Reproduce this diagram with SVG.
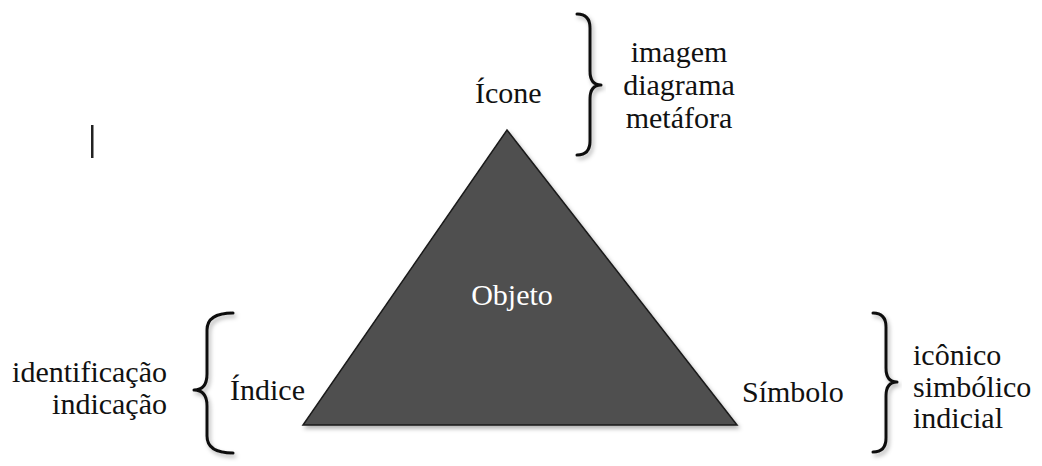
<svg xmlns="http://www.w3.org/2000/svg" width="1042" height="466" viewBox="0 0 1042 466">
  <defs>
    <filter id="shadow" x="-10%" y="-10%" width="130%" height="130%">
      <feDropShadow dx="2" dy="3" stdDeviation="2" flood-color="#000" flood-opacity="0.3"/>
    </filter>
  </defs>
  <style>
    text { font-family: 'Liberation Serif', 'Times New Roman', Times, serif; font-size: 30px; fill: #111; }
    .brace { fill: none; stroke: #111; stroke-width: 3; stroke-linecap: round; stroke-linejoin: round; }
    .label-in { fill: #fff; text-anchor: middle; }
  </style>
  <rect width="1042" height="466" fill="#fff"/>

  <!-- stray cursor bar -->
  <rect x="91" y="125" width="2.5" height="33" fill="#222"/>

  <!-- central triangle -->
  <g id="objeto">
    <polygon points="507,130 737,425 303,425" fill="#505050" stroke="#1a1a1a" stroke-width="1.5" filter="url(#shadow)"/>
    <text class="label-in" x="512" y="305" font-family="Liberation Serif, serif">Objeto</text>
  </g>

  <!-- top vertex: Ícone -->
  <g id="icone" font-family="Liberation Serif, serif">
    <text x="475" y="103">Ícone</text>
    <path class="brace" filter="url(#shadow)" d="M577,14 Q590,14 590,28 L590,71 Q590,85 601,85 Q590,85 590,99 L590,141 Q590,155 577,155"/>
    <text x="679" y="62" text-anchor="middle">imagem</text>
    <text x="679" y="95" text-anchor="middle">diagrama</text>
    <text x="679" y="128" text-anchor="middle">metáfora</text>
  </g>

  <!-- left vertex: Índice -->
  <g id="indice">
    <text x="230" y="400">Índice</text>
    <path class="brace" filter="url(#shadow)" d="M233,313 Q207,313 207,330 L207,374 Q207,390 194,390 Q207,390 207,406 L207,436 Q207,453 233,453"/>
    <text x="167" y="382" text-anchor="end">identificação</text>
    <text x="167" y="414" text-anchor="end">indicação</text>
  </g>

  <!-- right vertex: Símbolo -->
  <g id="simbolo">
    <text x="742" y="402">Símbolo</text>
    <path class="brace" filter="url(#shadow)" d="M873,313 Q886,313 886,327 L886,368 Q886,382 897,382 Q886,382 886,396 L886,438 Q886,452 873,452"/>
    <text x="913" y="365">icônico</text>
    <text x="913" y="397">simbólico</text>
    <text x="913" y="428">indicial</text>
  </g>
</svg>
